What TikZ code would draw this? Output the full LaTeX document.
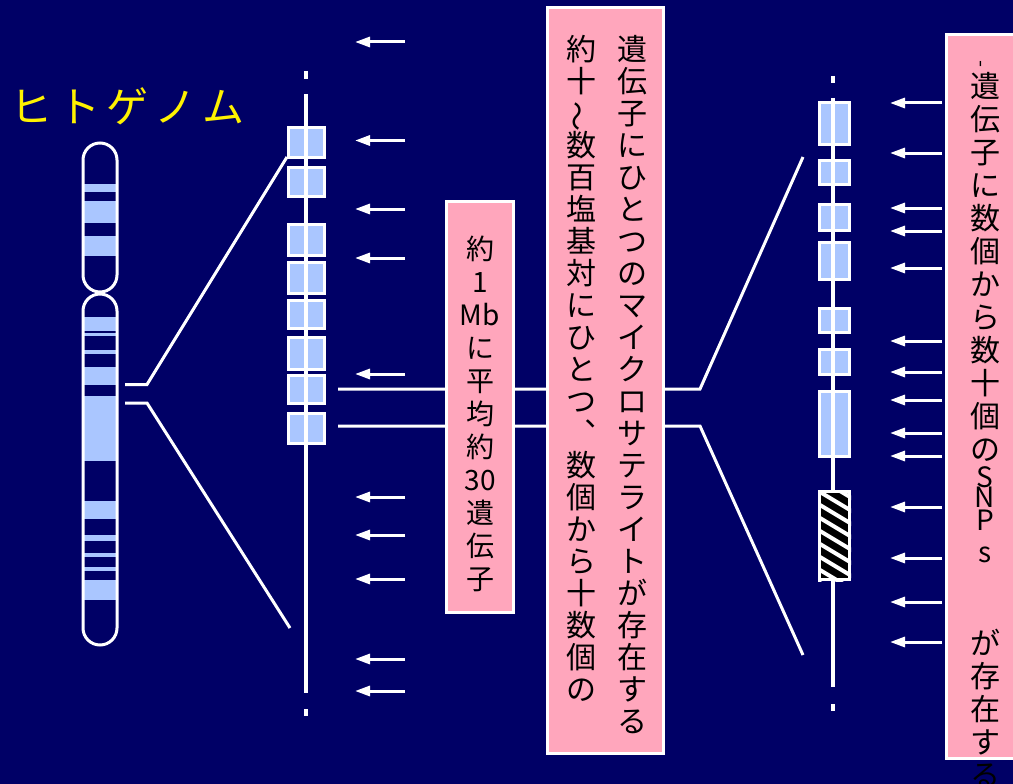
\documentclass[tikz,border=0pt]{standalone}
\usepackage{fontspec}
\usepackage{graphicx}
\newfontfamily\jp{Noto Sans CJK JP}
\usetikzlibrary{arrows.meta}

\definecolor{navy}{RGB}{0,0,102}
\definecolor{bandblue}{RGB}{170,198,255}
\definecolor{boxpink}{RGB}{255,166,188}

\newcommand{\latinch}[1]{{\fontsize{28}{28}\selectfont #1}}

\begin{document}
\begin{tikzpicture}[
    x=1pt, y=-1pt,
    genebox/.style={draw=white, line width=3pt, fill=bandblue},
    pinkbox/.style={draw=white, line width=3.5pt, fill=boxpink},
    snparrow/.style={draw=white, line width=3pt, -{Triangle[length=15pt,width=10pt]}},
    zoomline/.style={draw=white, line width=3pt},
    geneaxis/.style={draw=white, line width=4.5pt},
    tate/.style={font=\jp\fontsize{30}{32}\selectfont, align=center, inner sep=0pt, anchor=north, text=black}
]

% Background
\fill[navy] (0,0) rectangle (1013,784);
\clip (0,0) rectangle (1013,784);

% Title
\foreach \ch [count=\i from 0] in {ヒ,ト,ゲ,ノ,ム}
    \node[font=\jp\fontsize{42}{42}\selectfont, text=yellow, anchor=base, inner sep=0pt] (title\i) at (31+48*\i,123) {\ch};

% Chromosome: bands, then outline of both arms
\foreach \a/\b in {184/192, 201/223, 236/256, 317/331, 332.5/336, 350/354, 367/385,
                   396/461, 501/519, 535/541, 553/557, 567/571, 580/600}
    \fill[bandblue] (84,\a) rectangle (116,\b);
\draw[white, line width=3pt, rounded corners=17pt] (83,143) rectangle (117,292);
\draw[white, line width=3pt, rounded corners=17pt] (83,294) rectangle (117,645);

% Zoom from chromosome to 1 Mb region
\coordinate (chrtop) at (125,384.5);
\coordinate (chrbot) at (125,403);
\draw[zoomline] (chrtop) -- (147,384.5) -- (287,157);
\draw[zoomline] (chrbot) -- (147,403) -- (290,628);

% 1 Mb region with genes
\foreach \a/\b in {126/159, 166/198, 223/257, 261/295, 299/330, 336/371, 374/405, 412/445}
    \draw[genebox] (288.5,\a+1.5) rectangle (324.5,\b-1.5);
\draw[geneaxis] (306,94) -- (306,693);
\draw[geneaxis] (306,71) -- (306,79);
\draw[geneaxis] (306,709) -- (306,716);

% Microsatellites
\foreach \y [count=\i] in {42, 140.5, 209, 258, 374, 497, 535, 579, 659, 691} {
    \coordinate (ms\i) at (405,\y);
    \draw[snparrow] (ms\i) -- ++(-50,0);
}

% Zoom from region to a single gene
\coordinate (regtop) at (338,389);
\coordinate (regbot) at (338,426);
\draw[zoomline] (regtop) -- (700,389) -- (803,157);
\draw[zoomline] (regbot) -- (700,426) -- (803,655);

% Text boxes
\draw[pinkbox] (446.5,201.5) rectangle (513.5,612.5);
\draw[pinkbox] (547.5,7.5) rectangle (663.5,753.5);
\draw[pinkbox] (946.5,34.5) rectangle (1030,758.5);

\node[tate, font=\jp\fontsize{28}{33}\selectfont] (mbtext) at (480,236)
    {約\\1\\Mb\\に\\平\\均\\約\\30\\遺\\伝\\子};

\node[tate] (mscol1) at (632,35)
    {遺\\伝\\子\\に\\ひ\\と\\つ\\の\\マ\\イ\\ク\\ロ\\サ\\テ\\ラ\\イ\\ト\\が\\存\\在\\す\\る};
\node[tate] (mscol2) at (581,35)
    {約\\十\\\smash{\rotatebox[origin=c]{90}{～}}\\数\\百\\塩\\基\\対\\に\\ひ\\と\\つ\\︑\\数\\個\\か\\ら\\十\\数\\個\\の};

% Single gene with exons
\foreach \a/\b in {101/146, 159/186, 203/232, 241/281, 307/334, 348/376, 390/458}
    \draw[genebox] (819.5,\a+1.5) rectangle (849.5,\b-1.5);
\draw[geneaxis] (833,98) -- (833,687);
\draw[geneaxis] (833,76) -- (833,83);
\draw[geneaxis] (833,704) -- (833,711);

% Hatched exon
\begin{scope}
    \clip (818,490) rectangle (851,581);
    \fill[black] (818,490) rectangle (851,581);
    \foreach \s in {-26,-13,...,130}
        \draw[white, line width=4pt] (810,460+\s) -- (860,490+\s);
\end{scope}
\draw[white, line width=3pt] (819.5,491.5) rectangle (849.5,579.5);

% SNPs
\foreach \y [count=\i] in {103, 153, 208, 231, 268, 341, 372, 400, 433, 456, 507, 558, 602, 642} {
    \coordinate (snp\i) at (942,\y);
    \draw[snparrow] (snp\i) -- ++(-52,0);
}

\node[font=\jp\fontsize{20}{20}\selectfont, inner sep=0pt, text=black] (snpdash) at (983,64.5)
    {\rotatebox{90}{-}};
\node[tate, font=\jp\fontsize{30}{33}\selectfont] (snptext) at (985,72)
    {遺\\伝\\子\\に\\数\\個\\か\\ら\\数\\十\\個\\の\\[-6pt]\latinch{S}\\[-13pt]\latinch{N}\\[-10pt]\latinch{P}\\[-1pt]\latinch{s}\\[59pt]が\\存\\在\\す\\る};

\end{tikzpicture}
\end{document}
